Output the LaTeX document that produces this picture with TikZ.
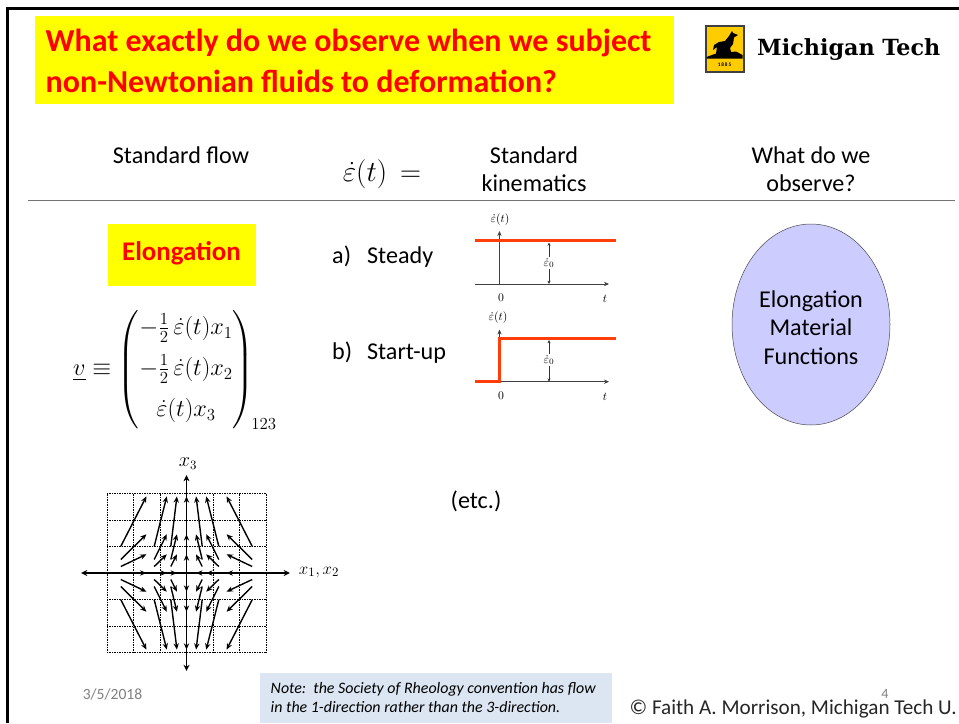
\documentclass[tikz,border=0pt]{standalone}
\usepackage{amsmath,amssymb}
\usepackage{fontspec}
\setmainfont{Carlito}
\newfontfamily\logofont{DejaVu Serif}
\usetikzlibrary{arrows.meta,positioning,shapes.geometric}
\definecolor{titlered}{RGB}{255,0,0}
\definecolor{titleyellow}{RGB}{255,255,0}
\definecolor{lobeblue}{RGB}{204,204,255}
\definecolor{noteblue}{RGB}{220,230,242}
\definecolor{flowred}{RGB}{255,62,10}
\definecolor{logogold}{RGB}{255,204,0}
\begin{document}
\begin{tikzpicture}[x=0.3mm,y=-0.3mm,
  body/.style={font=\fontsize{20.6}{24.2}\selectfont, align=center, inner sep=0pt},
  plotlab/.style={font=\fontsize{10}{12}\selectfont, inner sep=0pt},
  redline/.style={flowred, line width=0.9mm},
  axis/.style={-{Stealth[length=1.5mm,width=1.3mm]}, line width=0.25mm, black!75},
  dimarr/.style={{Stealth[length=1mm,width=0.9mm]}-{Stealth[length=1mm,width=0.9mm]}, line width=0.12mm, black!80},
  bigaxis/.style={{Stealth[length=1.9mm,width=1.8mm]}-{Stealth[length=1.9mm,width=1.8mm]}, line width=0.42mm},
  fieldarr/.style={-{Stealth[length=1.9mm,width=1.6mm]}, line width=0.42mm},
  gridline/.style={dash pattern=on 0.3mm off 0.2mm, line width=0.15mm}]
\useasboundingbox (0,0) rectangle (959,723);
\fill[white] (0,0) rectangle (959,723);
% ---- slide frame ----
\draw[line width=0.75mm] (7.5,723) -- (7.5,8.5) -- (959,8.5);
% ---- title and logo ----
\node[fill=titleyellow, minimum width=191.7mm, minimum height=26.4mm, inner sep=0pt] (titlebox) at (354.5,60) {};
\node[font=\fontsize{27.3}{35}\selectfont\bfseries, titlered, align=left, anchor=west, inner sep=0pt] (titletext) at (45.5,61)
  {What exactly do we observe when we subject\\non-Newtonian fluids to deformation?};
\fill[black!75] (704.5,24.5) rectangle (744.5,72.5);
\fill[logogold] (706.5,26.5) rectangle (742.5,70.5);
\fill[black] (706.5,57) -- (716,53.5) -- (717,47) -- (713,50) -- (714,45) -- (719,42) -- (725,41) -- (729,36) -- (732,31) -- (733,33)
  -- (738,35) -- (734,37.5) -- (733,44) -- (730,48) -- (731,52) -- (736,51.5) -- (742.5,55) -- (742.5,58.5) -- (706.5,58.5) -- cycle;
\node[font=\fontsize{4.5}{5}\selectfont\bfseries, inner sep=0pt] (logoyear) at (724.5,65) {1\,8\,8\,5};
\node[font=\fontsize{19}{22}\logofont\bfseries, inner sep=0pt, anchor=west] (logoname) at (757,50) {Michigan Tech};
% ---- column heads ----
\node[body] (headflow) at (181,155) {Standard flow};
\node[body, font=\fontsize{24}{28}\selectfont] (headrate) at (382,174) {$\dot{\varepsilon}(t)\,=$};
\node[body] (headkin) at (534,169.5) {Standard\\kinematics};
\node[body] (headobs) at (811,169.5) {What do we\\observe?};
\draw[black!55, line width=0.3mm] (28,200.7) -- (955,200.7);
% ---- left column ----
\node[fill=titleyellow, minimum width=44.4mm, minimum height=18.6mm, inner sep=0pt] (elong) at (182,255) {};
\node[font=\fontsize{23}{27}\selectfont\bfseries, text=titlered, inner sep=0pt] (elongtext) at (181.5,253) {Elongation};
\node[font=\fontsize{21}{25}\selectfont, inner sep=0pt] (veleq) at (175,370)
  {$\underline{v}\equiv\left(\begin{matrix}-\frac{1}{2}\,\dot{\varepsilon}(t)x_1\\[10pt] -\frac{1}{2}\,\dot{\varepsilon}(t)x_2\\[10pt] \dot{\varepsilon}(t)x_3\end{matrix}\right)_{\!123}$};
% ---- flow field ----
\foreach \gx in {-3,...,3}
  \draw[gridline] ({186.5+\gx*26.5},493.5) -- ({186.5+\gx*26.5},652.5);
\foreach \gy in {-3,...,3}
  \draw[gridline] (107,{573+\gy*26.5}) -- (266,{573+\gy*26.5});
\draw[bigaxis] (81,573) -- (290,573);
\draw[bigaxis] (186.5,475) -- (186.5,671);
\node[font=\fontsize{16}{18}\selectfont, inner sep=0pt] (xthree) at (188,464) {$x_3$};
\node[font=\fontsize{15.5}{18}\selectfont, inner sep=0pt] (xonetwo) at (319,572) {$x_1,x_2$};
\foreach \xa in {-65.7,-32.3,-15.7,0,15.7,32.3,65.7}
  \foreach \za in {-26.7,-13.5,-6.5,6.5,13.5,26.7}
    \draw[fieldarr] ({186.5+\xa},{573+\za}) -- ({186.5+0.61*\xa},{573+2.87*\za});
\foreach \xa in {-65.7,-32.3,-15.7,15.7,32.3,65.7}
  \draw[fieldarr] ({186.5+\xa},573) -- ({186.5+0.61*\xa},573);
% ---- steady and start-up ----
\node[body, anchor=west] (steady) at (332,257) {\makebox[29.75pt][l]{a)}Steady};
\node[body, anchor=west] (startup) at (332,353) {\makebox[29.75pt][l]{b)}Start-up};
% plot a
\draw[axis] (475,284) -- (609,284);
\draw[axis] (499.5,284) -- (499.5,231);
\draw[redline] (475,240.7) -- (616,240.7);
\draw[dimarr] (549,242.5) -- (549,284);
\node[plotlab, fill=white, inner ysep=1pt] (ratea) at (549,263) {$\dot{\varepsilon}_0$};
\node[plotlab] (yaxa) at (500,220) {$\dot{\varepsilon}(t)$};
\node[plotlab] (zeroa) at (501,298) {$0$};
\node[plotlab] (ta) at (605,299) {$t$};
% plot b
\draw[axis] (475,381.7) -- (609,381.7);
\draw[axis] (499.5,381.7) -- (499.5,329.5);
\draw[redline, line join=miter] (475,381.7) -- (499.5,381.7) -- (499.5,338.5) -- (616,338.5);
\draw[dimarr] (549,340) -- (549,381.7);
\node[plotlab, fill=white, inner ysep=1pt] (rateb) at (549,360) {$\dot{\varepsilon}_0$};
\node[plotlab] (yaxb) at (498,318) {$\dot{\varepsilon}(t)$};
\node[plotlab] (zerob) at (501,396) {$0$};
\node[plotlab] (tb) at (605,397) {$t$};
\node[body] (etc) at (476,501) {(etc.)};
% ---- observed functions ----
\node[ellipse, draw=black!70, fill=lobeblue, line width=0.15mm, minimum width=47.4mm, minimum height=60.3mm,
  inner sep=0pt] (matfun) at (811,324.5) {};
\node[body] (matfuntext) at (811,327.5) {Elongation\\Material\\Functions};
% ---- footer ----
\node[fill=noteblue, minimum width=105.6mm, minimum height=15mm, inner sep=0pt] (notebox) at (436,698) {};
\node[font=\fontsize{13.6}{16.2}\selectfont\itshape, align=left, anchor=west, inner sep=0pt] (notetext) at (270.5,697.5)
  {Note:\ \ the Society of Rheology convention has flow\\in the 1-direction rather than the 3-direction.};
\node[font=\fontsize{13.3}{15}\selectfont, black!50, inner sep=0pt] (datelab) at (112.5,694) {3/5/2018};
\node[font=\fontsize{12}{14}\selectfont, black!50, inner sep=0pt] (pagenum) at (885,694) {4};
\node[font=\fontsize{18.05}{21}\selectfont, black!85, anchor=east, inner sep=0pt] (credit) at (957,708.5) {© Faith A. Morrison, Michigan Tech U.};
\end{tikzpicture}
\end{document}
